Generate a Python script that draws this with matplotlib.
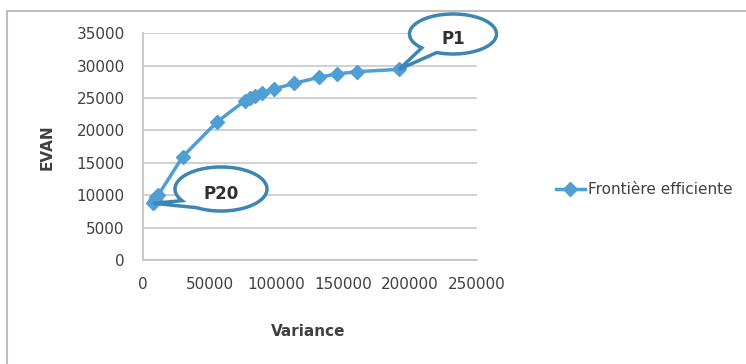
import numpy as np
import matplotlib
matplotlib.use("Agg")
import matplotlib.pyplot as plt
from matplotlib.patches import Polygon, Rectangle

# Frontière efficiente, de P1 (variance max) à P20 (variance min)
variance = [192000, 160200, 145200, 132200, 113500, 98300, 89500, 84100,
            80300, 76600, 55800, 29900, 11700, 10300, 9200, 8500, 7900]
evan = [29440, 29070, 28720, 28210, 27280, 26400, 25830, 25320,
        24960, 24600, 21350, 15950, 10040, 9700, 9260, 9000, 8750]

x_ticks = [0, 50000, 100000, 150000, 200000, 250000]
y_ticks = [0, 5000, 10000, 15000, 20000, 25000, 30000, 35000]

W, H = 746, 364
blue = "#4f9fd5"
callout_col = "#3d86b3"
text_col = "#404040"

fig = plt.figure(figsize=(W / 100, H / 100), dpi=100)
fig.patch.set_facecolor("white")

# cadre gris de la zone graphique
fig.add_artist(Rectangle((7 / W, -0.1), 1.2, (H - 11) / H + 0.1, transform=fig.transFigure,
                         fill=False, edgecolor="#bfbfbf", linewidth=1.5))

ax = fig.add_axes([142.7 / W, 1 - 260 / H, 334 / W, 226.7 / H])
ax.set_xlim(0, 250000)
ax.set_ylim(0, 35000)
ax.set_xticks(x_ticks)
ax.set_yticks(y_ticks)
ax.set_xticklabels([str(v) for v in x_ticks])
ax.set_yticklabels([str(v) for v in y_ticks])
ax.tick_params(length=0, labelsize=11, labelcolor=text_col)
ax.tick_params(axis="y", pad=13)
ax.tick_params(axis="x", pad=12)
ax.grid(axis="y", color="#c8c8c8", linewidth=1.2)
ax.set_axisbelow(True)
for s in ["top", "right"]:
    ax.spines[s].set_visible(False)
ax.spines["left"].set_color("#c0c0c0")
ax.spines["bottom"].set_color("#c0c0c0")
ax.spines["left"].set_linewidth(1.2)
ax.spines["bottom"].set_linewidth(1.2)

ax.plot(variance, evan, color=blue, linewidth=2.5, marker="D", markersize=7,
        markeredgecolor=blue, label="Frontière efficiente", clip_on=False)

fig.text(47 / W, 1 - 147 / H, "EVAN", rotation=90, ha="center", va="center",
         fontsize=11, fontweight="bold", color=text_col)
fig.text(308 / W, 1 - 331 / H, "Variance", ha="center", va="center",
         fontsize=11, fontweight="bold", color=text_col)

leg = fig.legend(loc="center left", bbox_to_anchor=(548 / W, 1 - 190 / H), frameon=False,
                 fontsize=11, handlelength=1.9, handletextpad=0.2, borderpad=0)
for t in leg.get_texts():
    t.set_color(text_col)


def callout(label, point, cx, cy, w, h, a0, a1):
    # bulle elliptique avec une pointe vers le point de données (coordonnées pixels)
    tip = ax.transData.transform(point)
    cy = H - cy
    t = np.linspace(np.radians(a1), np.radians(a0) + 2 * np.pi, 120)
    pts = np.column_stack([cx + w / 2 * np.cos(t), cy + h / 2 * np.sin(t)])
    pts = np.vstack([pts, tip])
    fig.add_artist(Polygon(pts, closed=True, transform=None, facecolor="white",
                           edgecolor=callout_col, linewidth=2.5, zorder=5))
    fig.text(cx / W, (cy - 5) / H, label, ha="center", va="center", fontsize=12,
             fontweight="bold", color="#303030", zorder=6)


callout("P1", (variance[0], evan[0]), 453, 34, 87, 40, 224, 248)
callout("P20", (variance[-1], evan[-1]), 221, 189, 92, 44, 212, 238)

fig.savefig("out.png", dpi=100)
